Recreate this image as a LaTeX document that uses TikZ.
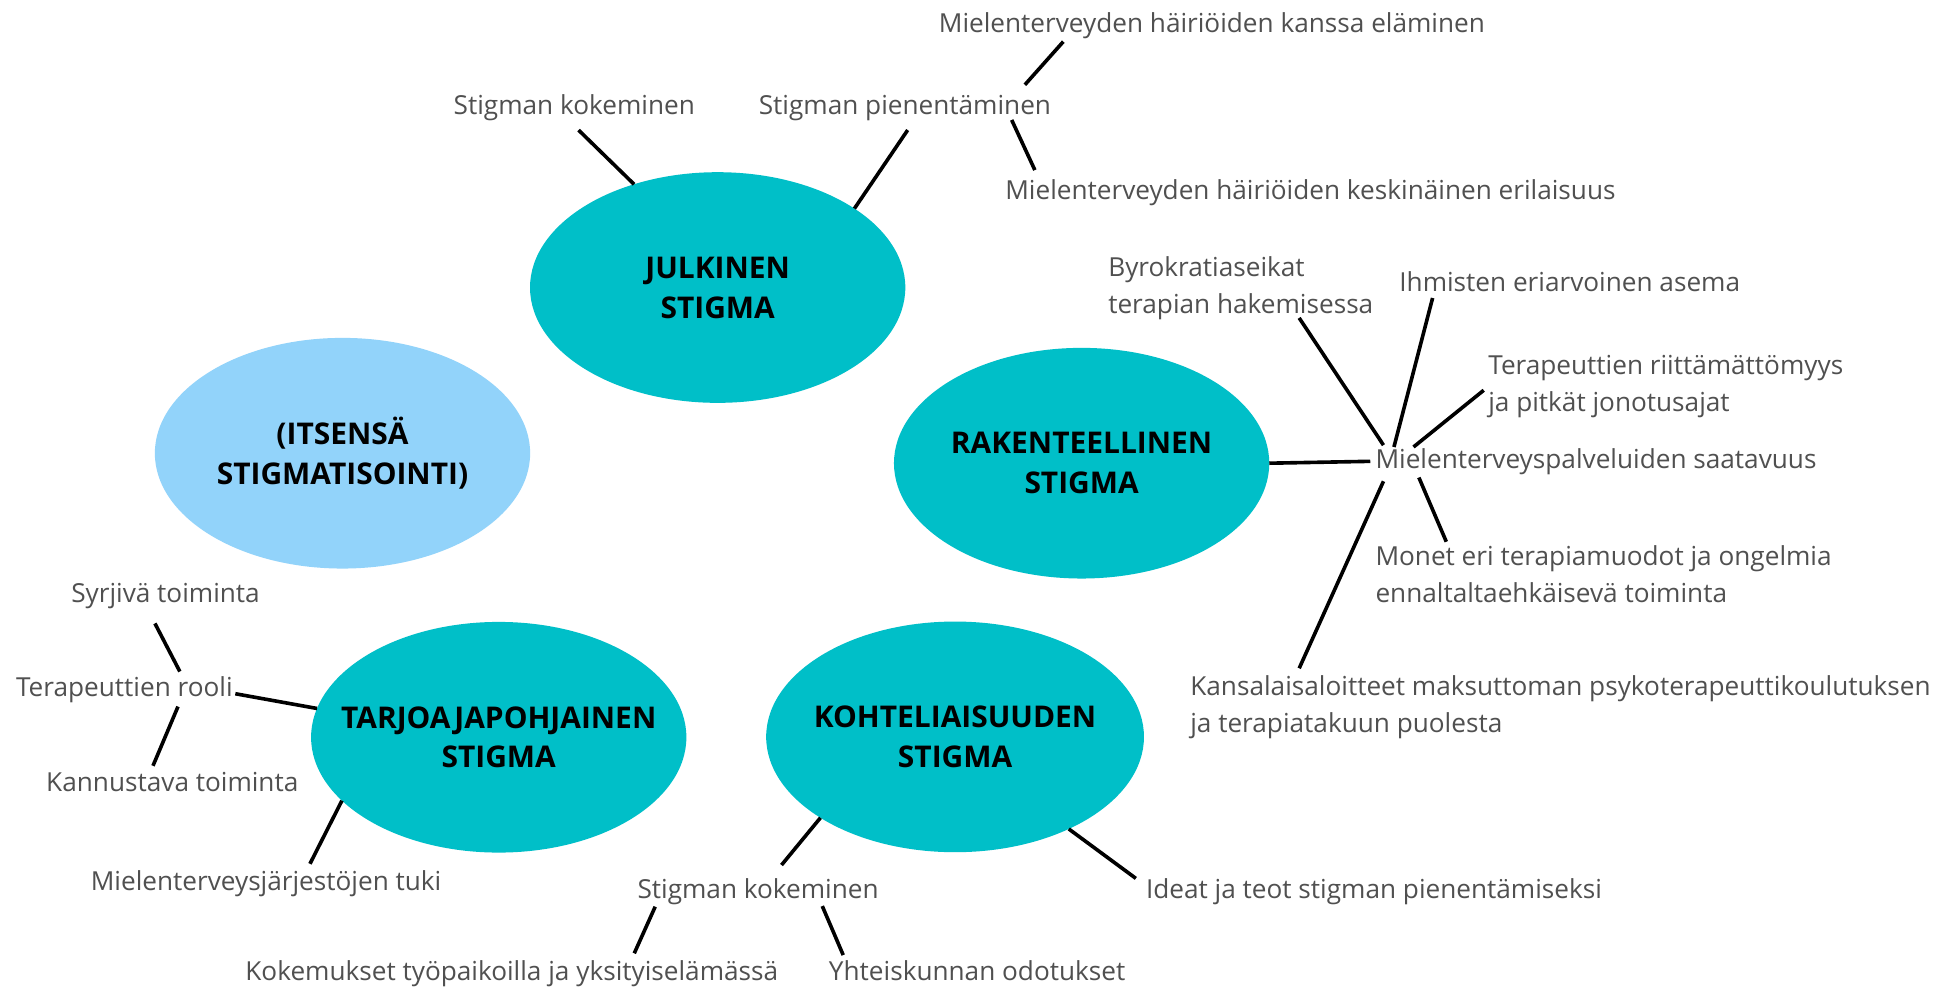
\documentclass[tikz,border=0pt]{standalone}
\usepackage{fontspec}
\setmainfont{Open Sans}
\usetikzlibrary{shapes.geometric}
\definecolor{tealc}{HTML}{00BFC8}
\definecolor{lblue}{HTML}{92D3FA}
\definecolor{txt}{HTML}{505050}
\begin{document}
\begin{tikzpicture}[x=1pt,y=-1pt,
  bub/.style={ellipse, fill=tealc, minimum width=301pt, minimum height=185pt, inner sep=0pt, outer sep=0pt},
  btxt/.style={inner sep=0pt, align=center, text=black, font=\fontsize{24}{32}\selectfont\bfseries},
  lbl/.style={inner sep=0pt, text=txt, font=\fontsize{21}{29.5}\selectfont, anchor=base},
  mlbl/.style={inner sep=0pt, text=txt, font=\fontsize{21}{29.5}\selectfont, anchor=north west, align=left},
  con/.style={line width=2.9pt, black}]
\fill[white] (0,0) rectangle (1568,793);
\useasboundingbox (0,0) rectangle (1568,793);
% ellipses
\node[bub] (jul) at (575.6,230.6) {};
\node[bub, fill=lblue] (its) at (274.7,363.5) {};
\node[bub] (rak) at (867.5,371.5) {};
\node[bub] (tar) at (400,591.3) {};
\node[bub, minimum width=303pt] (koh) at (766,591) {};
\node[btxt] (julT) at (jul) {JULKINEN\\STIGMA};
\node[btxt] (itsT) at (its) {(ITSENSÄ\\STIGMATISOINTI)};
\node[btxt] (rakT) at (rak) {RAKENTEELLINEN\\STIGMA};
\node[btxt] (tarT) at (tar) {TARJOAJAPOHJAINEN\\STIGMA};
\node[btxt] (kohT) at (koh) {KOHTELIAISUUDEN\\STIGMA};
% labels
\node[lbl] (sk1) at (460.6,92) {Stigman kokeminen};
\node[lbl] (spi) at (725.8,91.5) {Stigman pienentäminen};
\node[lbl] (mk) at (972,26) {Mielenterveyden häiriöiden kanssa eläminen};
\node[lbl] (mke) at (1051,160) {Mielenterveyden häiriöiden keskinäinen erilaisuus};
\node[mlbl] (byro) at (888.7,206) {Byrokratiaseikat\\terapian hakemisessa};
\node[lbl] (ihm) at (1259,234) {Ihmisten eriarvoinen asema};
\node[mlbl] (ter) at (1193.5,285) {Terapeuttien riittämättömyys\\ja pitkät jonotusajat};
\node[lbl, anchor=base west] (msa) at (1103,376) {Mielenterveyspalveluiden saatavuus};
\node[mlbl] (mon) at (1103,437.5) {Monet eri terapiamuodot ja ongelmia\\ennaltaltaehkäisevä toiminta};
\node[mlbl] (kan) at (954.5,541.7) {Kansalaisaloitteet maksuttoman psykoterapeuttikoulutuksen\\ja terapiatakuun puolesta};
\node[lbl] (syr) at (132.75,483) {Syrjivä toiminta};
\node[lbl] (trool) at (99.75,559) {Terapeuttien rooli};
\node[lbl] (kann) at (138.2,634.5) {Kannustava toiminta};
\node[lbl] (mjt) at (213.4,714.6) {Mielenterveysjärjestöjen tuki};
\node[lbl] (sk2) at (608,721) {Stigman kokeminen};
\node[lbl] (kok) at (410.5,786) {Kokemukset työpaikoilla ja yksityiselämässä};
\node[lbl] (yht) at (783.7,786) {Yhteiskunnan odotukset};
\node[lbl] (ide) at (1102,721) {Ideat ja teot stigman pienentämiseksi};
% connectors
\draw[con] (jul.129.4) -- ([shift={(3.4,12.3)}]sk1.base);
\draw[con] (jul.30.6) -- ([shift={(2.2,12.8)}]spi.base);
\draw[con] ([shift={(96.2,-23.5)}]spi.base) -- ([shift={(-119.2,7.4)}]mk.base);
\draw[con] ([shift={(85.6,4.7)}]spi.base) -- ([shift={(-221,-23.6)}]mke.base);
\draw[con] (rak.east) -- ([shift={(-4,-6)}]msa.base west);
\draw[con] ([shift={(6.6,-19)}]msa.base west) -- ([shift={(153.3,49)}]byro.north west);
\draw[con] ([shift={(15,-17.5)}]msa.base west) -- ([shift={(-110,5)}]ihm.base);
\draw[con] ([shift={(30.7,-17.5)}]msa.base west) -- ([shift={(-3.5,28)}]ter.north west);
\draw[con] ([shift={(35,7)}]msa.base west) -- ([shift={(57,-3)}]mon.north west);
\draw[con] ([shift={(6.6,10)}]msa.base west) -- ([shift={(87.5,-5.7)}]kan.north west);
\draw[con] (tar.171.2) -- ([shift={(89,-2.6)}]trool.base);
\draw[con] ([shift={(44.5,-20.4)}]trool.base) -- ([shift={(-8.5,17)}]syr.base);
\draw[con] ([shift={(43,7.7)}]trool.base) -- ([shift={(-15.5,-20.3)}]kann.base);
\draw[con] (tar.202.2) -- ([shift={(35.2,-21.8)}]mjt.base);
\draw[con] (koh.211.6) -- ([shift={(18.8,-27.2)}]sk2.base);
\draw[con] (koh.321.6) -- ([shift={(-191,-16.5)}]ide.base);
\draw[con] ([shift={(-82.5,6.2)}]sk2.base) -- ([shift={(98.2,-21.4)}]kok.base);
\draw[con] ([shift={(51.5,5.7)}]sk2.base) -- ([shift={(-107.4,-20)}]yht.base);
\end{tikzpicture}
\end{document}
